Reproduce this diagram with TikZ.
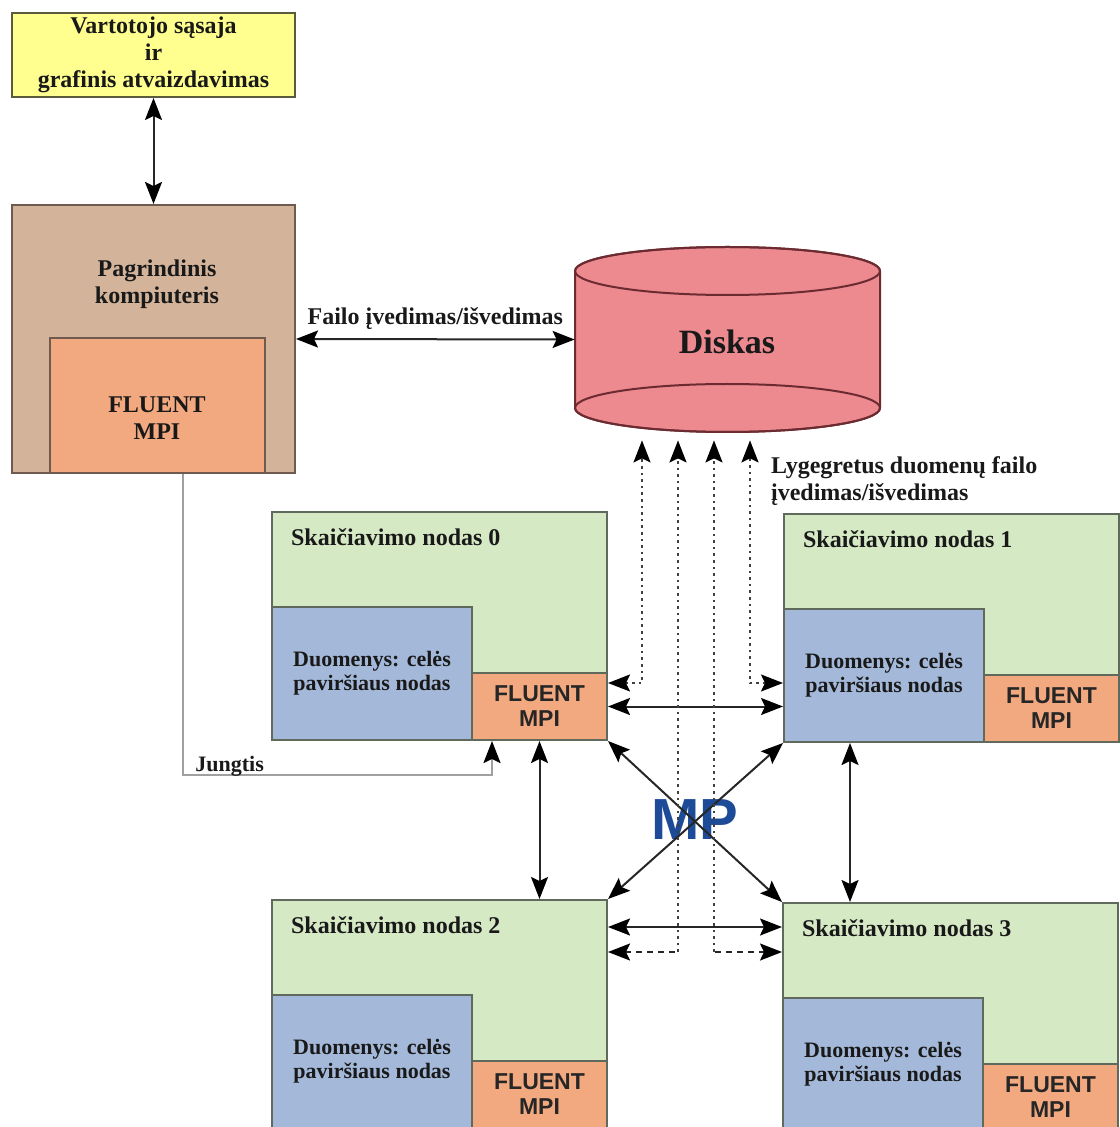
\documentclass[tikz,border=0pt]{standalone}
\usepackage{fontspec}
\setmainfont{Liberation Serif}
\newfontfamily\sansfluent{Liberation Sans}
\usetikzlibrary{arrows.meta,positioning,fit,calc}

\definecolor{uiyellow}{HTML}{FFFF8F}
\definecolor{uiline}{HTML}{5A5A3C}
\definecolor{hosttan}{HTML}{D3B49B}
\definecolor{hostline}{HTML}{6E5A4E}
\definecolor{mpisalmon}{HTML}{F3A97F}
\definecolor{nodegreen}{HTML}{D5E9C5}
\definecolor{nodeline}{HTML}{5F6A5C}
\definecolor{datablue}{HTML}{A4B9D9}
\definecolor{diskred}{HTML}{EC8A8F}
\definecolor{diskline}{HTML}{6B2B30}
\definecolor{mpblue}{HTML}{1D4B98}
\definecolor{jgray}{HTML}{A0A0A0}

\tikzset{
	bigtip/.tip={Stealth[length=11pt,width=8.5pt,inset=2pt,color=black]}
}

\begin{document}
\begin{tikzpicture}[x=0.5pt, y=-0.5pt,
		box/.style={draw=nodeline, line width=1pt, inner sep=0pt},
		txt/.style={font=\bfseries\fontsize{12}{13.5}\selectfont, align=center, text=black!90},
		small/.style={font=\bfseries\fontsize{11}{12}\selectfont, align=center, text=black!90},
		sanstxt/.style={font=\sansfluent\bfseries\fontsize{11.5}{12.5}\selectfont, align=center, text=black!85},
		link/.style={bigtip-bigtip, line width=1pt, draw=black!85},
		dotlink/.style={bigtip-bigtip, line width=1pt, draw=black!75, dash pattern=on 1.3pt off 2pt, shorten >=4pt},
		dashlink/.style={bigtip-, line width=1pt, draw=black!85, dash pattern=on 3pt off 2.5pt}]
	\useasboundingbox (0,0) rectangle (1119,1127);

	% naudotojo sasaja ir pagrindinis kompiuteris
	\node[box, draw=uiline, fill=uiyellow, fit={(12,13) (295,97)}] (ui) {};
	\node[txt] at (ui) {Vartotojo sąsaja\\ir\\grafinis atvaizdavimas};
	\node[box, draw=hostline, fill=hosttan, fit={(12,205) (295,473)}] (host) {};
	\node[box, draw=hostline, fill=mpisalmon, fit={(50,338) (265,473)}] (hostmpi) {};
	\node[txt] at (157,284) {Pagrindinis\\kompiuteris};
	\node[txt] at (157,418) {FLUENT\\MPI};
	\draw[link] (ui.south) -- (host.north);

	% diskas
	\path[fill=diskred, draw=diskline, line width=1pt] (575,271) -- (575,408)
		arc[start angle=180, end angle=0, x radius=152.5, y radius=24] -- (880,271)
		arc[start angle=0, end angle=-180, x radius=152.5, y radius=24] -- cycle;
	\draw[diskline, line width=1pt] (727.5,271) ellipse[x radius=152.5, y radius=24];
	\draw[diskline, line width=1pt] (727.5,408) ellipse[x radius=152.5, y radius=24];
	\node[inner sep=0pt, fit={(575,247) (880,432)}] (disk) {};
	\node[font=\bfseries\fontsize{17}{20}\selectfont, text=black!90] (disklabel) at (727,342) {Diskas};
	\draw[link] (host.east) -- (disk.west) node[midway, above=1pt, txt] {Failo įvedimas/išvedimas};
	\node[txt, align=left, anchor=north west] (par) at (764,450) {Lygegretus duomenų failo\\įvedimas/išvedimas};

	% skaiciavimo nodai
	\foreach \n/\x/\y in {0/272/512, 1/784/514, 2/272/900, 3/783/903}{
		\node[box, fill=nodegreen, fit={(\x,\y) (\x+335,\y+228)}] (c\n) {};
		\node[box, fill=datablue, fit={(\x,\y+95) (\x+200,\y+228)}] (d\n) {};
		\node[box, fill=mpisalmon, fit={(\x+200,\y+161) (\x+335,\y+228)}] (f\n) {};
		\node[txt, anchor=west] at (\x+12,\y+25) {Skaičiavimo nodas \n};
		\node[small] at (d\n) {Duomenys: celės\\paviršiaus nodas};
		\node[sanstxt] at (f\n) {FLUENT\\MPI};
	}

	\node[font=\sansfluent\bfseries\fontsize{29}{30}\selectfont, text=mpblue] (mp) at (695,820) {MP};

	% pranesimu perdavimas
	\draw[link] (f0.east) -- (f0.east -| d1.west);
	\coordinate (r) at (0,927);
	\draw[link] (c2.east |- r) -- (c3.west |- r);
	\draw[link] (f0.south) -- (f0.south |- c2.north);
	\coordinate (v1) at (850,0);
	\draw[link] (c1.south -| v1) -- (c3.north -| v1);
	\draw[link] (c0.south east) -- (c3.north west);
	\draw[link] (c1.south west) -- (c2.north east);

	% lygegretus failu ivedimas/isvedimas
	\coordinate (q0) at (642,683);
	\coordinate (q1) at (750,683);
	\coordinate (q2) at (678,952);
	\coordinate (q3) at (714,952);
	\draw[dotlink] (q0 -| c0.east) -- (q0) -- (q0 |- disk.south);
	\draw[dotlink] (q1 -| d1.west) -- (q1) -- (q1 |- disk.south);
	\draw[dashlink] (q2 -| c2.east) -- (q2);
	\draw[dashlink] (q3 -| c3.west) -- (q3);
	\draw[dotlink, -bigtip] (q2) -- (q2 |- disk.south);
	\draw[dotlink, -bigtip] (q3) -- (q3 |- disk.south);

	% jungtis
	\coordinate (j) at (183,775);
	\coordinate (j2) at (492,775);
	\draw[jgray, line width=1.1pt, -bigtip] (host.south -| j) -- (j) -- (j2) -- (j2 |- f0.south);
	\node[small, anchor=south west, inner sep=1pt] (jlabel) at (193,779) {Jungtis};
\end{tikzpicture}
\end{document}
